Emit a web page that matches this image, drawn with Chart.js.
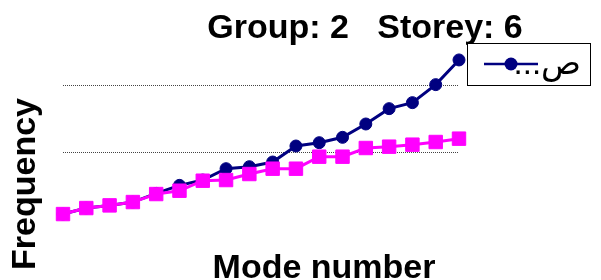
<!DOCTYPE html>
<html>
<head>
<meta charset="utf-8">
<script src="https://cdn.jsdelivr.net/npm/chart.js@4/dist/chart.umd.min.js"></script>
<style>
  html, body { margin: 0; padding: 0; background: #fff; }
  #wrap { width: 601px; height: 280px; }
</style>
</head>
<body>
<div id="wrap"><canvas id="chart" width="601" height="280"></canvas></div>
<script>
// chart data
let modes = ['1','2','3','4','5','6','7','8','9','10','11','12','13','14','15','16','17','18'];
let blueValues = [0.8, 1.7, 2.1, 2.6, 3.9, 5.1, 5.9, 7.6, 7.9, 8.6, 11.0, 11.5, 12.3, 14.3, 16.6, 17.5, 20.2, 23.9];
let pinkValues = [0.8, 1.7, 2.1, 2.6, 3.8, 4.3, 5.8, 5.9, 6.8, 7.6, 7.6, 9.4, 9.4, 10.7, 10.9, 11.2, 11.6, 12.1];
let gridValues = [10, 20];

let chartTitle = 'Group: 2   Storey: 6';
let xTitle = 'Mode number';
let yTitle = 'Frequency';
let legendLabel = 'ص...';

const bold = 'bold 34px "Liberation Sans", Arial, sans-serif';

// titles and the single-entry legend box
const textPlugin = {
  id: 'texts',
  afterDraw(chart) {
    const ctx = chart.ctx;
    const area = chart.chartArea;
    ctx.save();
    ctx.fillStyle = '#000';
    ctx.font = bold;
    ctx.textAlign = 'center';
    ctx.textBaseline = 'alphabetic';
    ctx.fillText(chartTitle, 365, 38);
    ctx.fillText(xTitle, 324, 278);

    ctx.save();
    ctx.translate(35, 184);
    ctx.rotate(-Math.PI / 2);
    ctx.fillText(yTitle, 0, 0);
    ctx.restore();

    // legend
    const bx = area.right + 8, by = 43, bw = 123, bh = 42;
    ctx.fillStyle = '#fff';
    ctx.fillRect(bx, by, bw, bh);
    ctx.strokeStyle = '#000';
    ctx.lineWidth = 1;
    ctx.strokeRect(bx + 0.5, by + 0.5, bw, bh);

    const ly = by + 21;
    ctx.strokeStyle = '#000080';
    ctx.lineWidth = 2.5;
    ctx.beginPath();
    ctx.moveTo(bx + 17, ly);
    ctx.lineTo(bx + 71, ly);
    ctx.stroke();
    ctx.fillStyle = '#000080';
    ctx.beginPath();
    ctx.arc(bx + 44, ly, 6.5, 0, Math.PI * 2);
    ctx.fill();

    ctx.fillStyle = '#000';
    ctx.font = '33px "Liberation Sans", "DejaVu Sans", sans-serif';
    ctx.direction = 'rtl';
    ctx.textAlign = 'right';
    ctx.fillText(legendLabel, bx + 114, by + 31);
    ctx.restore();
  }
};

new Chart(document.getElementById('chart'), {
  type: 'line',
  data: {
    labels: modes,
    datasets: [
      {
        label: legendLabel,
        data: blueValues,
        borderColor: '#000080',
        backgroundColor: '#000080',
        borderWidth: 3,
        pointStyle: 'circle',
        pointRadius: 6,
        pointBorderWidth: 1,
        tension: 0,
        clip: false,
        order: 2
      },
      {
        label: 'pink',
        data: pinkValues,
        borderColor: '#ff00ff',
        backgroundColor: '#ff00ff',
        borderWidth: 3,
        pointStyle: 'rect',
        pointRadius: 9.5,
        pointBorderWidth: 1,
        tension: 0,
        clip: false,
        order: 1
      }
    ]
  },
  options: {
    responsive: false,
    animation: false,
    devicePixelRatio: 1,
    layout: { padding: { left: 63, right: 142, top: 52.6, bottom: 60.6 } },
    plugins: {
      legend: { display: false },
      title: { display: false },
      tooltip: { enabled: false }
    },
    scales: {
      x: { display: false, offset: false },
      y: {
        min: 0,
        max: 25,
        ticks: { display: false, stepSize: 10 },
        border: { display: false, dash: [1, 1] },
        grid: {
          drawTicks: false,
          lineWidth: 1,
          color: (c) => gridValues.includes(c.tick && c.tick.value) ? '#444' : 'rgba(0,0,0,0)'
        }
      }
    }
  },
  plugins: [textPlugin]
});
</script>
</body>
</html>
